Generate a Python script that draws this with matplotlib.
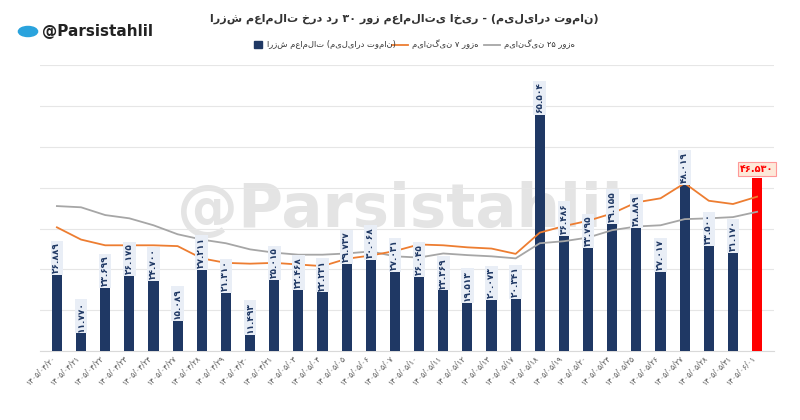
import matplotlib
matplotlib.use("Agg")
import matplotlib.pyplot as plt
from matplotlib.patches import Circle

plt.rcParams['font.family'] = ['DejaVu Sans']

dates = ["۱۴۰۵/۰۴/۲۰","۱۴۰۵/۰۴/۲۱","۱۴۰۵/۰۴/۲۲","۱۴۰۵/۰۴/۲۳","۱۴۰۵/۰۴/۲۴","۱۴۰۵/۰۴/۲۷",
         "۱۴۰۵/۰۴/۲۸","۱۴۰۵/۰۴/۲۹","۱۴۰۵/۰۴/۳۰","۱۴۰۵/۰۴/۳۱","۱۴۰۵/۰۵/۰۳","۱۴۰۵/۰۵/۰۴",
         "۱۴۰۵/۰۵/۰۵","۱۴۰۵/۰۵/۰۶","۱۴۰۵/۰۵/۰۷","۱۴۰۵/۰۵/۱۰","۱۴۰۵/۰۵/۱۱","۱۴۰۵/۰۵/۱۲",
         "۱۴۰۵/۰۵/۱۳","۱۴۰۵/۰۵/۱۷","۱۴۰۵/۰۵/۱۸","۱۴۰۵/۰۵/۱۹","۱۴۰۵/۰۵/۲۰","۱۴۰۵/۰۵/۲۴",
         "۱۴۰۵/۰۵/۲۵","۱۴۰۵/۰۵/۲۶","۱۴۰۵/۰۵/۲۷","۱۴۰۵/۰۵/۲۸","۱۴۰۵/۰۵/۳۱","۱۴۰۵/۰۶/۰۱"]
bar_heights = [18.7,4.5,15.6,18.5,17.3,7.6,20.0,14.4,4.2,17.5,15.2,14.5,21.4,22.5,19.5,
               18.3,15.0,12.0,12.6,12.9,57.9,28.4,25.4,31.3,30.3,19.5,40.9,25.9,24.1,42.3]
bar_labels = ["۲۶.۸۸۹","۱۱.۷۷۰","۲۳.۶۹۹","۲۶.۱۷۵","۲۴.۷۰۰","۱۵.۰۸۹","۲۷.۲۱۱","۲۱.۳۱۰","۱۱.۴۹۳","۲۵.۰۱۵",
              "۲۲.۴۶۸","۲۲.۲۳۱","۲۹.۷۳۷","۳۰.۰۶۸","۲۷.۰۳۱","۲۶.۰۴۵","۲۳.۳۶۹","۱۹.۵۱۳","۲۰.۰۷۳","۲۰.۳۴۱",
              "۶۵.۵۰۴","۳۶.۴۸۶","۳۳.۷۹۵","۳۹.۱۵۵","۳۸.۸۸۹","۲۷.۰۱۷","۴۸.۰۱۹","۳۳.۵۰۰","۳۱.۱۷۰","۴۶.۵۳۰"]
ma7 = [30.3,27.3,25.9,25.9,25.9,25.7,22.7,21.6,21.4,21.6,21.2,20.8,22.6,23.4,24.5,
       26.1,25.9,25.4,25.1,23.8,29.0,30.6,31.9,33.7,36.4,37.4,41.1,36.8,36.0,37.8]
ma25 = [35.5,35.2,33.3,32.5,30.8,28.6,27.3,26.4,24.9,24.1,23.6,23.6,23.9,24.4,23.2,
        22.9,23.9,23.5,23.2,22.7,26.4,26.9,27.8,29.6,30.5,30.8,32.3,32.5,32.8,34.1]

title = "ارزش معاملات خرد در ۳۰ روز معاملاتی اخیر - (میلیارد تومان)"
leg_bar = "ارزش معاملات (میلیارد تومان)"
leg_7 = "میانگین ۷ روزه"
leg_25 = "میانگین ۲۵ روزه"

navy = "#1f3864"
fig = plt.figure(figsize=(8, 4.2), dpi=100)
fig.text(0.5, 0.5, "@Parsistahlil", fontsize=44, fontweight='bold', color='#e4e4e4',
         ha='center', va='center', zorder=-5)
ax = fig.add_axes([0.05, 0.164, 0.9175, 0.681])
ax.patch.set_alpha(0)
x = list(range(len(bar_heights)))
colors = [navy]*(len(x)-1) + ["#ff0000"]
ax.bar(x, bar_heights, width=0.42, color=colors, zorder=3)
ax.plot(x, ma25, color="#a6a6a6", lw=1.3, zorder=4)
ax.plot(x, ma7, color="#ed7d31", lw=1.3, zorder=4)
for i, (h, lab) in enumerate(zip(bar_heights, bar_labels)):
    last = i == len(x)-1
    if last:
        ax.text(i, h+1.0, lab, ha='center', va='bottom', fontsize=7, color='red',
                fontweight='bold', zorder=5,
                bbox=dict(boxstyle='square,pad=0.2', fc='#fde9d9', ec='#ff9999', lw=0.8))
    else:
        ax.text(i, h+0.3, lab, ha='center', va='bottom', rotation=90, fontsize=6.5,
                color=navy, fontweight='bold', zorder=5,
                bbox=dict(boxstyle='square,pad=0.2', fc='#e9eef6', ec='none'))
ax.set_xlim(-0.7, len(x)-0.3)
ax.set_ylim(0, 70)
ax.set_yticks(range(0, 71, 10))
ax.set_yticklabels([])
ax.tick_params(axis='y', length=0)
ax.grid(axis='y', color='#e6e6e6', lw=0.8, zorder=0)
ax.set_xticks(x)
ax.set_xticklabels(dates, rotation=45, ha='right', fontsize=5.5, color='#555555')
ax.tick_params(axis='x', length=0, pad=2)
for s in ['top', 'right', 'left']:
    ax.spines[s].set_visible(False)
ax.spines['bottom'].set_color('#d9d9d9')

fig.text(0.505, 0.955, title, ha='center', va='center', fontsize=8, fontweight='bold', color='#333333')

# legend
fig.patches.append(plt.Rectangle((0.318, 0.886), 0.01, 0.017, transform=fig.transFigure, color=navy))
fig.text(0.334, 0.894, leg_bar, fontsize=6, va='center', color='#333333')
fig.lines.append(plt.Line2D([0.49, 0.51], [0.894, 0.894], transform=fig.transFigure, color="#ed7d31", lw=1.3))
fig.text(0.515, 0.894, leg_7, fontsize=6, va='center', color='#333333')
fig.lines.append(plt.Line2D([0.605, 0.625], [0.894, 0.894], transform=fig.transFigure, color="#a6a6a6", lw=1.3))
fig.text(0.63, 0.894, leg_25, fontsize=6, va='center', color='#333333')

# logo
fig.patches.append(Circle((0.035, 0.925), 0.012, transform=fig.transFigure, color='#2aa3dd'))
fig.text(0.052, 0.925, "@Parsistahlil", fontsize=11, fontweight='bold', va='center', color='#222222')

fig.savefig("out.png", dpi=100)
